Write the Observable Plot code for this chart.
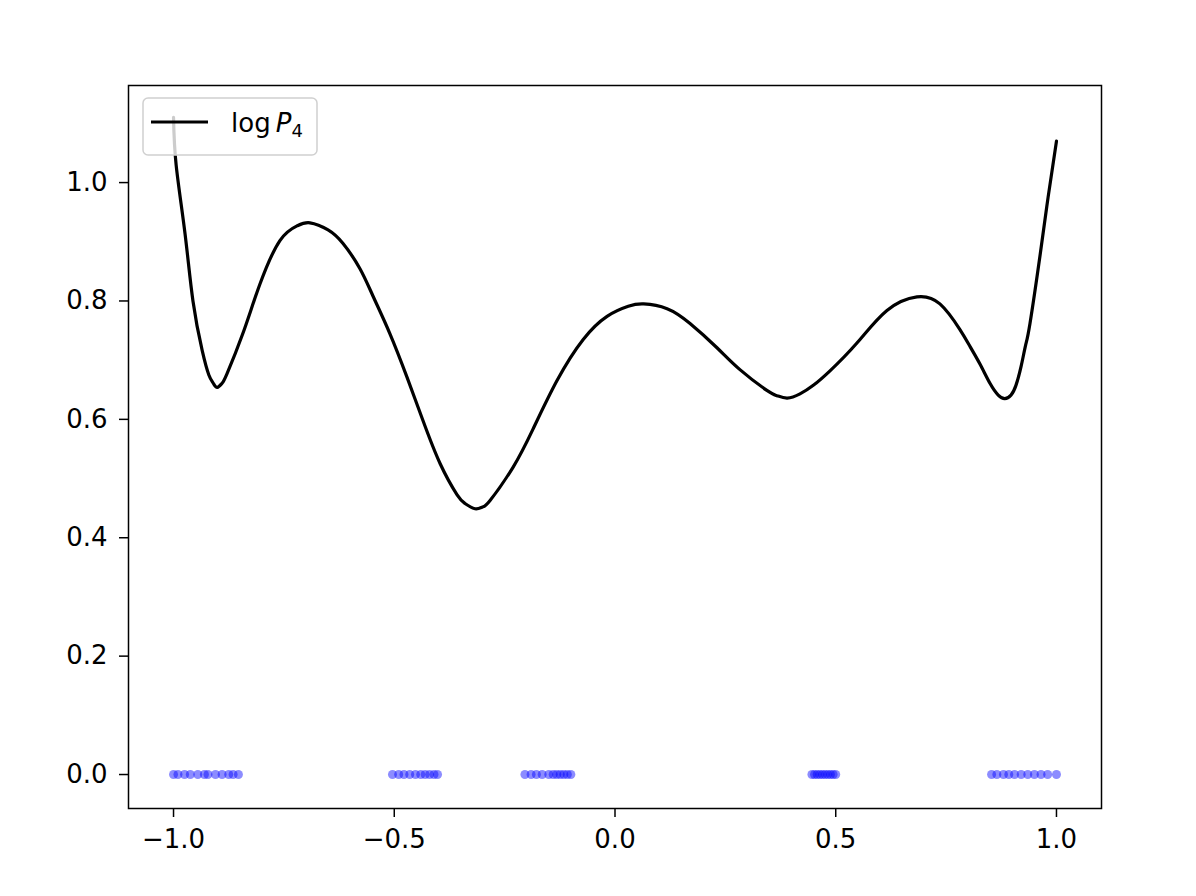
<!DOCTYPE html>
<html>
<head>
<meta charset="utf-8">
<script src="https://cdn.jsdelivr.net/npm/d3@7"></script>
<script src="https://cdn.jsdelivr.net/npm/@observablehq/plot@0.6"></script>
<style>
  html, body { margin: 0; padding: 0; background: #fff; }
  #chart svg { display: block; }
</style>
</head>
<body>
<div id="chart"></div>
<script>
// Curve log P_4
const curveX = [-1.0, -0.994, -0.974, -0.956, -0.935, -0.92, -0.91, -0.901, -0.89, -0.879, -0.843, -0.804, -0.759, -0.72, -0.691, -0.65, -0.616, -0.578, -0.548, -0.51, -0.471, -0.435, -0.396, -0.358, -0.34, -0.317, -0.3, -0.283, -0.231, -0.186, -0.131, -0.072, -0.018, 0.03, 0.065, 0.118, 0.17, 0.231, 0.283, 0.344, 0.367, 0.39, 0.419, 0.45, 0.487, 0.548, 0.616, 0.684, 0.736, 0.781, 0.805, 0.827, 0.85, 0.868, 0.883, 0.897, 0.908, 0.92, 0.93, 0.94, 0.963, 0.981, 1.0];
const curveY = [1.11, 1.029, 0.914, 0.80, 0.716, 0.675, 0.661, 0.654, 0.661, 0.677, 0.745, 0.829, 0.902, 0.927, 0.932, 0.92, 0.897, 0.855, 0.808, 0.745, 0.671, 0.598, 0.525, 0.473, 0.458, 0.449, 0.452, 0.463, 0.519, 0.583, 0.666, 0.735, 0.774, 0.791, 0.795, 0.787, 0.762, 0.721, 0.684, 0.649, 0.640, 0.636, 0.643, 0.658, 0.682, 0.729, 0.784, 0.807, 0.795, 0.752, 0.722, 0.693, 0.660, 0.641, 0.635, 0.641, 0.657, 0.69, 0.725, 0.762, 0.878, 0.975, 1.07];

// Sample points on the x axis (y = 0)
const pointX = [
  -1.0, -0.99, -0.975, -0.962, -0.945, -0.93, -0.922, -0.905, -0.89, -0.875, -0.865, -0.853,
  -0.504, -0.49, -0.478, -0.465, -0.452, -0.44, -0.43, -0.42, -0.41, -0.402,
  -0.204, -0.19, -0.178, -0.165, -0.15, -0.14, -0.132, -0.124, -0.116, -0.108, -0.1,
  0.446, 0.452, 0.458, 0.464, 0.47, 0.476, 0.482, 0.488, 0.494, 0.5,
  0.853, 0.865, 0.88, 0.892, 0.905, 0.92, 0.935, 0.95, 0.965, 0.98, 1.0
];
const pointY = pointX.map(() => 0);

const xTicks = [-1.0, -0.5, 0.0, 0.5, 1.0];
const yTicks = [0.0, 0.2, 0.4, 0.6, 0.8, 1.0];
const legendLabel = {base: "log\u2009", italic: "P", sub: "4"};

const curve = curveX.map((x, i) => ({x, y: curveY[i]}));
const points = pointX.map((x, i) => ({x, y: pointY[i]}));

const fmt = d3.format(".1f");
const W = 1196, H = 896;
const mL = 128, mR = 95, mT = 85, mB = 88;

const plot = Plot.plot({
  width: W,
  height: H,
  marginLeft: mL,
  marginRight: mR,
  marginTop: mT,
  marginBottom: mB,
  style: {fontFamily: "DejaVu Sans, sans-serif", fontSize: "26px", color: "black", background: "white"},
  x: {domain: [-1.102, 1.102], ticks: xTicks, tickFormat: fmt, label: null},
  y: {domain: [-0.0574, 1.164], ticks: yTicks, tickFormat: fmt, label: null},
  marks: [
    Plot.dot(points, {x: "x", y: "y", r: 4.5, fill: "blue", fillOpacity: 0.45, stroke: "none"}),
    Plot.line(curve, {x: "x", y: "y", stroke: "black", strokeWidth: 3.2, curve: "natural"}),
    Plot.axisX({ticks: xTicks, tickFormat: fmt, tickSize: 9, tickPadding: 12, strokeWidth: 1.5, fontSize: 26}),
    Plot.axisY({ticks: yTicks, tickFormat: fmt, tickSize: 9, tickPadding: 12, strokeWidth: 1.5, fontSize: 26}),
    Plot.frame({stroke: "black", strokeWidth: 1.5})
  ]
});

document.getElementById("chart").appendChild(plot);

// Legend (matplotlib-style, upper left)
const svg = d3.select(plot);
const lg = svg.append("g").attr("transform", `translate(${mL + 15},${mT + 13})`);
lg.append("rect")
  .attr("x", 0).attr("y", 0).attr("width", 174).attr("height", 57)
  .attr("rx", 5).attr("ry", 5)
  .attr("fill", "white").attr("fill-opacity", 0.8)
  .attr("stroke", "#d0d0d0").attr("stroke-width", 1.5);
lg.append("line")
  .attr("x1", 8).attr("x2", 65).attr("y1", 24).attr("y2", 24)
  .attr("stroke", "black").attr("stroke-width", 3.2);
const t = lg.append("text")
  .attr("x", 88).attr("y", 34)
  .style("text-anchor", "start")
  .style("font-family", "DejaVu Sans, sans-serif")
  .style("font-size", "26px")
  .style("fill", "black");
t.append("tspan").text(legendLabel.base);
t.append("tspan").style("font-style", "italic").text(legendLabel.italic);
t.append("tspan").style("font-size", "18px").attr("dy", 5).text(legendLabel.sub);
</script>
</body>
</html>
